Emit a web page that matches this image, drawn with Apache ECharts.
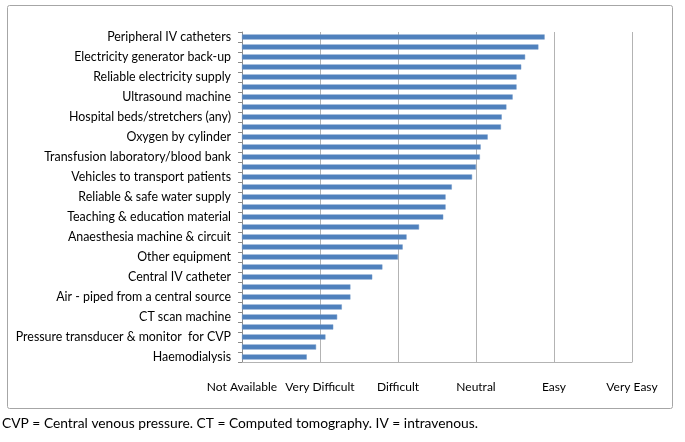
<!DOCTYPE html>
<html>
<head>
<meta charset="utf-8">
<script src="https://cdn.jsdelivr.net/npm/echarts@6/dist/echarts.min.js"></script>
<style>
html,body{margin:0;padding:0;background:#fff;}
#chart{width:685px;height:442px;}
</style>
</head>
<body>
<div id="chart"></div>
<script>
// Categories (top to bottom); unlabeled bars in the reference get hidden placeholder names
const categories = [
  "Peripheral IV catheters", "item 2",
  "Electricity generator back-up", "item 4",
  "Reliable electricity supply", "item 6",
  "Ultrasound machine", "item 8",
  "Hospital beds/stretchers (any)", "item 10",
  "Oxygen by cylinder", "item 12",
  "Transfusion laboratory/blood bank", "item 14",
  "Vehicles to transport patients", "item 16",
  "Reliable & safe water supply", "item 18",
  "Teaching & education material", "item 20",
  "Anaesthesia machine & circuit", "item 22",
  "Other equipment", "item 24",
  "Central IV catheter", "item 26",
  "Air - piped from a central source", "item 28",
  "CT scan machine", "item 30",
  "Pressure transducer & monitor  for CVP", "item 32",
  "Haemodialysis"
];
const values = [
  3.88, 3.80, 3.63, 3.58, 3.52, 3.52, 3.47, 3.39, 3.33, 3.32, 3.15,
  3.06, 3.05, 3.00, 2.95, 2.69, 2.61, 2.61, 2.58, 2.27, 2.11, 2.06,
  2.00, 1.80, 1.67, 1.39, 1.39, 1.28, 1.22, 1.17, 1.07, 0.95, 0.83
];
const scaleLabels = ["Not Available", "Very Difficult", "Difficult", "Neutral", "Easy", "Very Easy"];
const caption = "CVP = Central venous pressure. CT = Computed tomography. IV = intravenous.";

const FONT = "Lato";
const chart = echarts.init(document.getElementById('chart'), null, {renderer: 'canvas'});
chart.setOption({
  animation: false,
  backgroundColor: '#fff',
  grid: {left: 242, right: 53, top: 32, bottom: 80, containLabel: false},
  xAxis: {
    type: 'value', min: 0, max: 5, interval: 1,
    axisLine: {show: true, lineStyle: {color: '#b3b3b3', width: 1}},
    axisTick: {show: false},
    splitLine: {show: true, lineStyle: {color: '#b3b3b3', width: 1}},
    axisLabel: {
      margin: 19, color: '#000', fontFamily: FONT, fontSize: 12,
      formatter: function (v) { return scaleLabels[Math.round(v)] || ''; }
    }
  },
  yAxis: {
    type: 'category', inverse: true, data: categories,
    axisLine: {show: true, lineStyle: {color: '#8c8c8c', width: 1}},
    axisTick: {show: true, interval: 0, length: 4, lineStyle: {color: '#8c8c8c'}},
    axisLabel: {interval: 1, margin: 11, color: '#000', fontFamily: FONT, fontSize: 12.4}
  },
  series: [{
    type: 'bar', data: values, barWidth: '52%',
    itemStyle: {color: '#4f81bd', borderColor: '#6f96c8', borderWidth: 0.5}
  }],
  graphic: [
    {type: 'rect', shape: {x: 7.5, y: 5.5, width: 665, height: 403, r: 2}, style: {fill: 'none', stroke: '#a6a6a6', lineWidth: 1}, z: -1},
    {type: 'text', left: 2, top: 417, style: {text: caption, fill: '#000', font: '13.8px ' + FONT}}
  ]
});
</script>
</body>
</html>
